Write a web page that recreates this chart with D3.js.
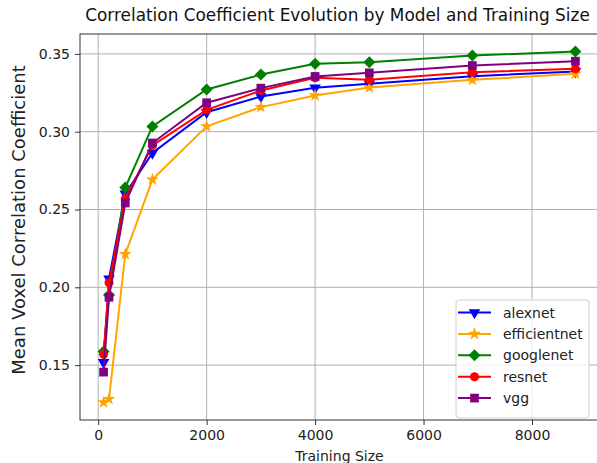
<!DOCTYPE html>
<html>
<head>
<meta charset="utf-8">
<script src="https://cdn.jsdelivr.net/npm/d3@7"></script>
<style>
  body { margin: 0; background: #fff; }
  svg { display: block; font-family: "DejaVu Sans", sans-serif; }
</style>
</head>
<body>
<div id="chart"></div>
<script>
// Data
const trainingSizes = [100, 200, 500, 1000, 2000, 3000, 4000, 5000, 6900, 8800];
const alexnet      = [0.1517, 0.2055, 0.2600, 0.2863, 0.3125, 0.3226, 0.3282, 0.3308, 0.3356, 0.3387];
const efficientnet = [0.1260, 0.1282, 0.2213, 0.2692, 0.3034, 0.3158, 0.3233, 0.3284, 0.3333, 0.3372];
const googlenet    = [0.1587, 0.1951, 0.2641, 0.3034, 0.3271, 0.3367, 0.3436, 0.3446, 0.3489, 0.3515];
const resnet       = [0.1570, 0.2029, 0.2570, 0.2912, 0.3140, 0.3265, 0.3346, 0.3333, 0.3382, 0.3404];
const vgg          = [0.1455, 0.1936, 0.2542, 0.2927, 0.3186, 0.3280, 0.3355, 0.3378, 0.3425, 0.3453];
const modelNames = ["alexnet", "efficientnet", "googlenet", "resnet", "vgg"];
const xTicks = [0, 2000, 4000, 6000, 8000];
const yTicks = [0.15, 0.20, 0.25, 0.30, 0.35];

const MARGIN = {TOP: 34, BOTTOM: 43, LEFT: 80, RIGHT: -2};
const WIDTH = 597 - MARGIN.LEFT - MARGIN.RIGHT;
const HEIGHT = 463 - MARGIN.TOP - MARGIN.BOTTOM;

const seriesValues = [alexnet, efficientnet, googlenet, resnet, vgg];
const colors = ["blue", "orange", "green", "red", "purple"];
const symbols = [
    {type: d3.symbolTriangle, size: 58, rotate: 180},
    {type: d3.symbolStar, size: 52, rotate: 0},
    {type: d3.symbolSquare, size: 72, rotate: 45},
    {type: d3.symbolCircle, size: 64, rotate: 0},
    {type: d3.symbolSquare, size: 76, rotate: 0}
];

const series = modelNames.map((name, i) => ({
    name: name,
    color: colors[i],
    symbol: symbols[i],
    points: trainingSizes.map((x, j) => ({x: x, y: seriesValues[i][j]}))
}));

const svg = d3.select("#chart")
    .append("svg")
        .attr("width", 597)
        .attr("height", 463)
    .append("g")
        .attr("transform", `translate(${MARGIN.LEFT}, ${MARGIN.TOP})`);

// Scales with matplotlib-like 5% padding
const xExt = d3.extent(trainingSizes);
const xPad = (xExt[1] - xExt[0]) * 0.05;
const allY = seriesValues.flat();
const yExt = d3.extent(allY);
const yPad = (yExt[1] - yExt[0]) * 0.05;

const x = d3.scaleLinear()
    .domain([xExt[0] - xPad, xExt[1] + xPad])
    .range([0, WIDTH]);
const y = d3.scaleLinear()
    .domain([yExt[0] - yPad, yExt[1] + yPad])
    .range([HEIGHT, 0]);

// Grid
svg.append("g")
    .selectAll("line")
    .data(xTicks)
    .enter().append("line")
        .attr("x1", d => x(d)).attr("x2", d => x(d))
        .attr("y1", 0).attr("y2", HEIGHT)
        .attr("stroke", "#b0b0b0")
        .attr("stroke-width", 1);
svg.append("g")
    .selectAll("line")
    .data(yTicks)
    .enter().append("line")
        .attr("x1", 0).attr("x2", WIDTH)
        .attr("y1", d => y(d)).attr("y2", d => y(d))
        .attr("stroke", "#b0b0b0")
        .attr("stroke-width", 1);

// Axes
const xAxisGroup = svg.append("g")
    .attr("transform", `translate(0, ${HEIGHT})`)
    .call(d3.axisBottom(x).tickValues(xTicks).tickFormat(d3.format("d")).tickSize(5).tickPadding(5).tickSizeOuter(0));
const yAxisGroup = svg.append("g")
    .call(d3.axisLeft(y).tickValues(yTicks).tickFormat(d3.format(".2f")).tickSize(5).tickPadding(5).tickSizeOuter(0));
[xAxisGroup, yAxisGroup].forEach(g => {
    g.selectAll("text").attr("font-size", 14).attr("fill", "#222").attr("font-family", "DejaVu Sans");
    g.selectAll("line").attr("stroke", "#333");
    g.select(".domain").remove();
});

// Frame
svg.append("rect")
    .attr("x", 0).attr("y", 0)
    .attr("width", WIDTH).attr("height", HEIGHT)
    .attr("fill", "none")
    .attr("stroke", "#333")
    .attr("stroke-width", 1);

// Lines and markers
const line = d3.line().x(d => x(d.x)).y(d => y(d.y));
series.forEach(s => {
    const g = svg.append("g");
    g.append("path")
        .datum(s.points)
        .attr("d", line)
        .attr("fill", "none")
        .attr("stroke", s.color)
        .attr("stroke-width", 2);
    g.selectAll("path.marker")
        .data(s.points)
        .enter().append("path")
            .attr("class", "marker")
            .attr("d", d3.symbol().type(s.symbol.type).size(s.symbol.size))
            .attr("transform", d => `translate(${x(d.x)}, ${y(d.y)}) rotate(${s.symbol.rotate})`)
            .attr("fill", s.color);
});

// Legend
const legend = svg.append("g")
    .attr("transform", `translate(${376}, ${266})`);
legend.append("rect")
    .attr("width", 133).attr("height", 118)
    .attr("rx", 3)
    .attr("fill", "white").attr("fill-opacity", 0.8)
    .attr("stroke", "#d0d0d0");
series.forEach((s, i) => {
    const row = legend.append("g").attr("transform", `translate(0, ${12.5 + i * 21.4})`);
    row.append("line")
        .attr("x1", 2).attr("x2", 35)
        .attr("stroke", s.color).attr("stroke-width", 2);
    row.append("path")
        .attr("d", d3.symbol().type(s.symbol.type).size(s.symbol.size))
        .attr("transform", `translate(18.5, 0) rotate(${s.symbol.rotate})`)
        .attr("fill", s.color);
    row.append("text")
        .attr("x", 47).attr("y", 5)
        .attr("font-size", 14).attr("fill", "#222")
        .text(s.name);
});

// Labels
svg.append("text")
    .attr("x", WIDTH / 2 - 2)
    .attr("y", -13)
    .attr("text-anchor", "middle")
    .attr("font-size", 16.9)
    .attr("fill", "#111")
    .text("Correlation Coefficient Evolution by Model and Training Size");
svg.append("text")
    .attr("x", WIDTH / 2)
    .attr("y", HEIGHT + 41)
    .attr("text-anchor", "middle")
    .attr("font-size", 14)
    .attr("fill", "#222")
    .text("Training Size");
svg.append("text")
    .attr("x", -(HEIGHT / 2) + 7)
    .attr("y", -55)
    .attr("text-anchor", "middle")
    .attr("font-size", 18)
    .attr("fill", "#222")
    .attr("transform", "rotate(-90)")
    .text("Mean Voxel Correlation Coefficient");
</script>
</body>
</html>
